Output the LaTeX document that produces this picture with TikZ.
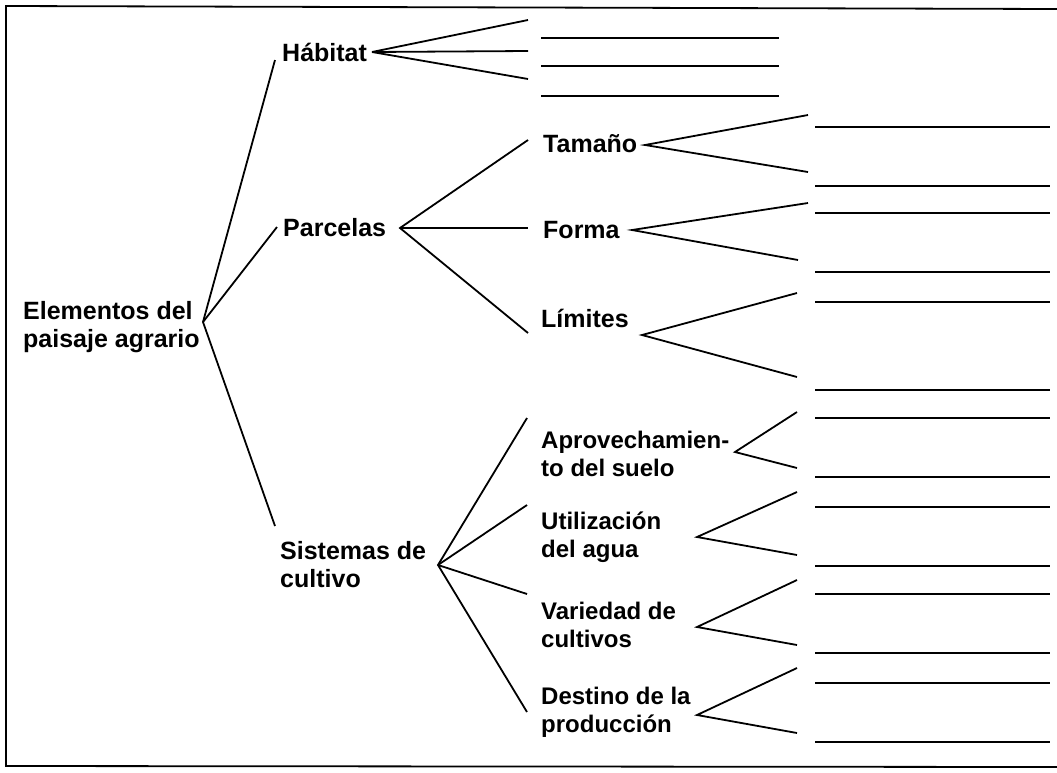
\documentclass[tikz,border=0pt]{standalone}
\usepackage{fontspec}
\setmainfont{Liberation Sans}
\begin{document}
\begin{tikzpicture}[x=1pt,y=-1pt,
  lab/.style={font=\bfseries\fontsize{25}{28}\selectfont, anchor=west, align=left, inner sep=0pt},
  sub/.style={font=\bfseries\fontsize{24}{28}\selectfont, anchor=west, align=left, inner sep=0pt},
  conn/.style={line width=1.8pt},
  blank/.style={line width=1.8pt},
  frame/.style={line width=1.8pt}]
\useasboundingbox (0,0) rectangle (1057,772);
% frame
\coordinate (f1) at (1057,9);
\coordinate (f2) at (6,6);
\coordinate (f3) at (6,766);
\coordinate (f4) at (1057,767);
\draw[frame] (f1) -- (f2) -- (f3) -- (f4);
% labels
\node[lab] (root) at (23,327) {Elementos del\\paisaje agrario};
\node[lab] (hab) at (282,52) {Hábitat};
\node[lab] (par) at (283,228) {Parcelas};
\node[lab] (sis) at (280,565) {Sistemas de\\cultivo};
\node[lab] (tam) at (543,144) {Tamaño};
\node[lab] (for) at (543,230) {Forma};
\node[lab] (lim) at (541,318) {Límites};
\node[sub] (apr) at (541,454) {Aprovechamien-\\to del suelo};
\node[sub] (uti) at (541,537) {Utilización\\del agua};
\node[sub] (var) at (541,625) {Variedad de\\cultivos};
\node[sub] (des) at (541,712) {Destino de la\\producción};
% vertices
\coordinate (vroot) at (203,322);
\coordinate (vhab) at (372,52);
\coordinate (vpar) at (400,228);
\coordinate (vtam) at (645,145);
\coordinate (vfor) at (632,230);
\coordinate (vlim) at (642,335);
\coordinate (vsis) at (438,565);
\coordinate (vapr) at (735,452);
\coordinate (vuti) at (697,537);
\coordinate (vvar) at (697,627);
\coordinate (vdes) at (697,715);
% ends
\coordinate (ehab) at (275,60);
\coordinate (epar) at (277,227);
\coordinate (esis) at (275,526);
\coordinate (eh1) at (528,20);
\coordinate (eh2) at (528,51);
\coordinate (eh3) at (528,79);
\coordinate (etam) at (528,140);
\coordinate (efor) at (528,228);
\coordinate (elim) at (528,333);
\coordinate (et1) at (808,115);
\coordinate (et2) at (808,172);
\coordinate (ef1) at (808,203);
\coordinate (ef2) at (798,260);
\coordinate (el1) at (797,293);
\coordinate (el2) at (797,377);
\coordinate (eapr) at (527,418);
\coordinate (euti) at (527,505);
\coordinate (evar) at (527,594);
\coordinate (edes) at (527,712);
\coordinate (ea1) at (797,412);
\coordinate (ea2) at (797,468);
\coordinate (eu1) at (797,492);
\coordinate (eu2) at (797,555);
\coordinate (ev1) at (797,580);
\coordinate (ev2) at (797,645);
\coordinate (ed1) at (797,668);
\coordinate (ed2) at (797,733);
% connectors
\draw[conn] (ehab) -- (vroot) -- (esis);
\draw[conn] (vroot) -- (epar);
\draw[conn] (vhab) -- (eh1); \draw[conn] (vhab) -- (eh2); \draw[conn] (vhab) -- (eh3);
\draw[conn] (etam) -- (vpar) -- (elim); \draw[conn] (vpar) -- (efor);
\draw[conn] (et1) -- (vtam) -- (et2);
\draw[conn] (ef1) -- (vfor) -- (ef2);
\draw[conn] (el1) -- (vlim) -- (el2);
\draw[conn] (eapr) -- (vsis) -- (edes); \draw[conn] (vsis) -- (euti); \draw[conn] (vsis) -- (evar);
\draw[conn] (ea1) -- (vapr) -- (ea2);
\draw[conn] (eu1) -- (vuti) -- (eu2);
\draw[conn] (ev1) -- (vvar) -- (ev2);
\draw[conn] (ed1) -- (vdes) -- (ed2);
% blank answer lines
\foreach \y [count=\i] in {38,66,96} {
  \coordinate (sa\i) at (541,\y); \coordinate (sb\i) at (779,\y);
  \draw[blank] (sa\i) -- (sb\i);
}
\foreach \y [count=\i] in {127,186,213,272,302,390,418,477,507,566,594,653,683,742} {
  \coordinate (ra\i) at (815,\y); \coordinate (rb\i) at (1050,\y);
  \draw[blank] (ra\i) -- (rb\i);
}
\end{tikzpicture}
\end{document}
